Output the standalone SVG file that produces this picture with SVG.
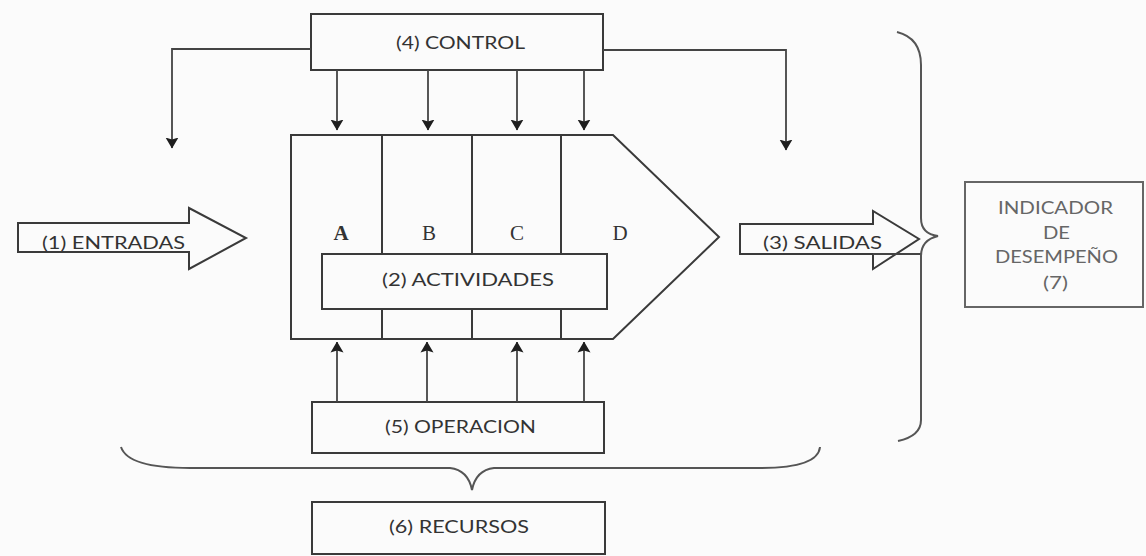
<svg xmlns="http://www.w3.org/2000/svg" width="1146" height="556" viewBox="0 0 1146 556">
  <style>
    .box { fill: none; stroke: #3a3a3a; stroke-width: 2; }
    .line { fill: none; stroke: #444; stroke-width: 1.8; }
    .brace { fill: none; stroke: #555; stroke-width: 2; }
    .lbl { font-family: Lato, "Open Sans", "Liberation Sans", sans-serif; font-size: 17px; fill: #333; }
    .letter { font-family: "Liberation Serif", serif; font-size: 21px; fill: #333; text-anchor: middle; }
    .ind { font-family: Lato, "Open Sans", "Liberation Sans", sans-serif; font-size: 18px; fill: #666; }
  </style>
  <defs>
    <!-- short, wide solid arrowhead -->
    <marker id="head" viewBox="0 0 11 14" refX="10.5" refY="7" markerWidth="11" markerHeight="14" markerUnits="userSpaceOnUse" orient="auto">
      <path d="M0,0.5 L11,7 L0,13.5 L2,7 Z" fill="#1e1e1e"/>
    </marker>
  </defs>
  <rect width="1146" height="556" fill="#fbfbfb"/>

  <!-- (4) CONTROL -->
  <g id="control">
    <rect class="box" x="311" y="14" width="292" height="56"/>
    <text class="lbl" x="396" y="49" textLength="129" lengthAdjust="spacingAndGlyphs">(4) CONTROL</text>
  </g>

  <!-- process block with stages A-D -->
  <g id="proceso">
    <path class="box" d="M291,135 L613,135 L719,237 L613,339 L291,339 Z"/>
    <line class="box" x1="382" y1="135" x2="382" y2="339"/>
    <line class="box" x1="472" y1="135" x2="472" y2="339"/>
    <line class="box" x1="561" y1="135" x2="561" y2="339"/>
    <text class="letter" x="341" y="240" font-weight="bold">A</text>
    <text class="letter" x="429" y="240">B</text>
    <text class="letter" x="517" y="240">C</text>
    <text class="letter" x="620" y="240">D</text>
  </g>

  <!-- (2) ACTIVIDADES -->
  <g id="actividades">
    <rect x="322" y="254" width="285" height="55" fill="#fbfbfb" stroke="#3a3a3a" stroke-width="2"/>
    <text class="lbl" x="382" y="286" textLength="172" lengthAdjust="spacingAndGlyphs">(2) ACTIVIDADES</text>
  </g>

  <!-- (1) ENTRADAS -->
  <g id="entradas">
    <path class="box" d="M18,223 L189,223 L189,208 L246,238 L189,269 L189,252 L18,252 Z"/>
    <text class="lbl" x="42" y="249" textLength="143" lengthAdjust="spacingAndGlyphs">(1) ENTRADAS</text>
  </g>

  <!-- (3) SALIDAS -->
  <g id="salidas">
    <path class="box" d="M740,224 L873,224 L873,211 L919,239 L873,269 L873,254 L740,254 Z"/>
    <line class="line" x1="873" y1="254" x2="921" y2="254"/>
    <text class="lbl" x="763" y="249" textLength="119" lengthAdjust="spacingAndGlyphs">(3) SALIDAS</text>
  </g>

  <!-- (5) OPERACION -->
  <g id="operacion">
    <rect class="box" x="312" y="402" width="292" height="51"/>
    <text class="lbl" x="385" y="433" textLength="151" lengthAdjust="spacingAndGlyphs">(5) OPERACION</text>
  </g>

  <!-- (6) RECURSOS -->
  <g id="recursos">
    <rect class="box" x="312" y="502" width="293" height="52"/>
    <text class="lbl" x="389" y="533" textLength="140" lengthAdjust="spacingAndGlyphs">(6) RECURSOS</text>
  </g>

  <!-- (7) INDICADOR DE DESEMPEÑO -->
  <g id="indicador">
    <rect x="965" y="182" width="178" height="125" fill="none" stroke="#666" stroke-width="2"/>
    <text class="ind" x="998" y="214" textLength="115" lengthAdjust="spacingAndGlyphs">INDICADOR</text>
    <text class="ind" x="1043" y="239" textLength="27" lengthAdjust="spacingAndGlyphs">DE</text>
    <text class="ind" x="995" y="263" textLength="123" lengthAdjust="spacingAndGlyphs">DESEMPEÑO</text>
    <text class="ind" x="1043" y="289" textLength="25" lengthAdjust="spacingAndGlyphs">(7)</text>
  </g>

  <!-- braces -->
  <g id="llaves">
    <path class="brace" d="M897,32 Q921,38 921,65 L921,218 Q921,234 938,236 Q921,240 921,256 L921,420 Q921,436 898,441"/>
    <path class="brace" d="M121,447 Q128,468 190,468 L450,468 Q468,470 472,490 Q476,470 494,468 L760,468 Q818,468 820,447"/>
  </g>

  <!-- connectors -->
  <g id="conectores">
    <path class="line" d="M311,49 L172,49 L172,148" marker-end="url(#head)"/>
    <path class="line" d="M603,50 L786,50 L786,150" marker-end="url(#head)"/>
    <line class="line" x1="337" y1="70" x2="337" y2="130" marker-end="url(#head)"/>
    <line class="line" x1="428" y1="70" x2="428" y2="130" marker-end="url(#head)"/>
    <line class="line" x1="517" y1="70" x2="517" y2="130" marker-end="url(#head)"/>
    <line class="line" x1="584" y1="70" x2="584" y2="130" marker-end="url(#head)"/>
    <line class="line" x1="337" y1="402" x2="337" y2="342" marker-end="url(#head)"/>
    <line class="line" x1="427" y1="402" x2="427" y2="342" marker-end="url(#head)"/>
    <line class="line" x1="517" y1="402" x2="517" y2="342" marker-end="url(#head)"/>
    <line class="line" x1="584" y1="402" x2="584" y2="342" marker-end="url(#head)"/>
  </g>
</svg>
